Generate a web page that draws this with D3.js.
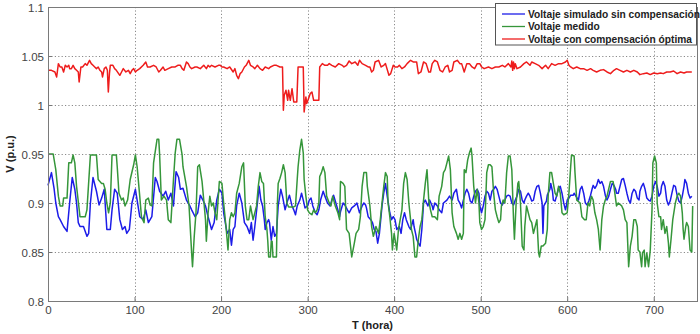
<!DOCTYPE html>
<html><head><meta charset="utf-8">
<script src="https://cdn.jsdelivr.net/npm/d3@7"></script>
<style>body{margin:0;background:#fff}svg{display:block}</style>
</head><body><svg id="c" width="700" height="334"></svg>
<script>
const xTicks = [0,100,200,300,400,500,600,700];
const yTicks = [0.8,0.85,0.9,0.95,1,1.05,1.1];
const yTickLabels = ["0.8","0.85","0.9","0.95","1","1.05","1.1"];
const xLabel = "T (hora)";
const yLabel = "V (p.u.)";
const seriesNames = ["Voltaje simulado sin compensación","Voltaje medido","Voltaje con compensación óptima"];

// [hora, V (p.u.)]
const simulado = [[0,.918],[4,.931],[7,.915],[9,.900],[12,.886],[14,.883],[18,.876],[22,.871],[25,.900],[28,.926],[31,.914],[33,.900],[35,.880],[37,.876],[41,.876],[45,.866],[47,.869],[49,.900],[52,.926],[56,.912],[59,.898],[62,.905],[65,.914],[68,.873],[72,.873],[74,.893],[77,.914],[80,.910],[83,.883],[86,.873],[89,.876],[91,.869],[94,.873],[97,.900],[101,.914],[103,.903],[106,.886],[110,.883],[113,.893],[116,.880],[120,.886],[124,.926],[126,.922],[129,.912],[133,.907],[136,.912],[139,.903],[142,.910],[145,.897],[148,.932],[151,.926],[153,.914],[156,.915],[160,.903],[164,.897],[166,.893],[170,.886],[173,.890],[176,.908],[179,.903],[182,.897],[185,.886],[189,.873],[192,.880],[195,.903],[198,.914],[201,.910],[203,.890],[207,.869],[210,.873],[212,.857],[214,.873],[216,.876],[218,.897],[221,.910],[224,.900],[227,.880],[230,.876],[233,.869],[235,.880],[237,.862],[239,.876],[242,.900],[244,.917],[246,.903],[248,.897],[250,.883],[251,.873],[253,.880],[255,.883],[256,.880],[258,.862],[260,.876],[262,.866],[264,.869],[266,.897],[269,.914],[271,.907],[274,.893],[276,.900],[279,.908],[282,.897],[284,.893],[286,.888],[288,.897],[291,.903],[293,.910],[295,.903],[297,.895],[300,.897],[302,.903],[304,.905],[306,.897],[309,.890],[311,.888],[313,.893],[315,.903],[318,.912],[320,.907],[323,.900],[326,.897],[328,.903],[330,.908],[332,.902],[335,.893],[337,.886],[338,.891],[341,.900],[343,.898],[346,.893],[348,.890],[351,.895],[354,.897],[357,.900],[360,.890],[363,.897],[365,.900],[367,.898],[368,.895],[370,.886],[373,.883],[375,.880],[377,.873],[379,.871],[381,.859],[383,.869],[386,.897],[388,.910],[390,.920],[392,.907],[395,.890],[397,.883],[399,.886],[401,.883],[403,.873],[406,.876],[408,.869],[410,.883],[412,.890],[414,.883],[417,.876],[419,.873],[422,.883],[423,.876],[425,.868],[426,.863],[428,.859],[430,.856],[432,.873],[434,.900],[436,.903],[439,.897],[441,.903],[444,.897],[445,.893],[447,.900],[450,.897],[452,.893],[455,.890],[457,.900],[461,.903],[464,.907],[467,.903],[469,.910],[472,.914],[474,.903],[476,.900],[478,.895],[480,.903],[482,.910],[484,.914],[486,.910],[488,.902],[490,.900],[492,.907],[494,.912],[496,.914],[498,.910],[499,.897],[501,.890],[503,.897],[505,.907],[507,.912],[509,.910],[511,.903],[513,.912],[515,.914],[517,.917],[519,.914],[521,.907],[523,.900],[525,.898],[526,.900],[528,.903],[530,.907],[532,.908],[534,.907],[536,.900],[538,.898],[540,.903],[542,.907],[544,.914],[546,.912],[548,.903],[550,.900],[551,.903],[553,.907],[555,.910],[557,.907],[559,.902],[561,.903],[563,.912],[565,.917],[567,.918],[569,.910],[571,.900],[572,.869],[573,.897],[576,.902],[577,.908],[580,.914],[581,.920],[583,.912],[584,.903],[586,.902],[588,.908],[590,.915],[592,.917],[594,.910],[596,.900],[598,.893],[599,.897],[600,.903],[602,.905],[604,.908],[607,.908],[608,.910],[610,.907],[613,.903],[615,.914],[617,.917],[619,.910],[621,.900],[623,.898],[625,.902],[627,.908],[629,.915],[630,.918],[632,.915],[634,.918],[636,.924],[638,.920],[640,.922],[642,.917],[644,.908],[646,.903],[648,.907],[650,.914],[652,.920],[654,.918],[656,.914],[657,.910],[659,.910],[661,.917],[663,.924],[665,.925],[667,.918],[669,.910],[671,.903],[673,.900],[675,.910],[677,.914],[679,.912],[681,.905],[683,.903],[684,.912],[686,.917],[688,.920],[690,.914],[692,.905],[694,.903],[696,.902],[698,.907],[700,.917],[702,.922],[704,.917],[706,.907],[708,.910],[709,.917],[711,.922],[713,.917],[715,.903],[717,.898],[719,.902],[721,.910],[723,.918],[725,.917],[727,.908],[729,.902],[731,.900],[733,.907],[735,.917],[736,.924],[738,.920],[740,.910],[742,.905],[744,.907]];

const medido = [[0,.950],[6,.950],[9,.934],[12,.907],[14,.897],[17,.897],[18,.905],[22,.905],[24,.941],[27,.941],[29,.949],[31,.941],[33,.917],[37,.886],[43,.886],[45,.893],[49,.949],[56,.949],[58,.924],[62,.920],[64,.920],[66,.914],[68,.900],[70,.890],[72,.900],[74,.949],[79,.949],[80,.937],[82,.910],[85,.903],[87,.905],[89,.897],[92,.903],[95,.924],[99,.939],[101,.949],[103,.937],[106,.907],[108,.886],[111,.880],[113,.903],[116,.905],[118,.898],[120,.897],[122,.941],[126,.965],[128,.965],[129,.949],[131,.903],[134,.907],[137,.903],[139,.883],[142,.880],[145,.924],[147,.951],[149,.965],[152,.965],[155,.949],[156,.937],[160,.917],[163,.897],[166,.849],[167,.835],[169,.866],[171,.890],[173,.937],[175,.939],[178,.922],[180,.903],[182,.883],[183,.861],[185,.890],[187,.907],[189,.897],[191,.900],[193,.890],[195,.883],[198,.922],[201,.920],[203,.900],[206,.873],[208,.852],[210,.883],[212,.890],[214,.886],[216,.890],[218,.910],[221,.920],[224,.937],[226,.941],[228,.897],[230,.883],[232,.883],[234,.897],[237,.883],[241,.897],[243,.917],[245,.931],[247,.922],[249,.920],[251,.886],[253,.873],[254,.861],[255,.845],[257,.845],[258,.861],[259,.861],[260,.845],[264,.845],[265,.897],[266,.920],[268,.925],[270,.931],[272,.939],[274,.931],[276,.900],[278,.896],[284,.896],[286,.897],[288,.924],[289,.937],[291,.954],[293,.965],[295,.951],[296,.924],[298,.907],[300,.893],[302,.890],[305,.888],[307,.893],[309,.890],[311,.893],[313,.900],[314,.927],[316,.931],[318,.937],[320,.931],[322,.907],[325,.900],[327,.897],[329,.907],[332,.897],[335,.890],[337,.883],[338,.922],[341,.920],[343,.917],[345,.873],[348,.869],[351,.845],[354,.859],[356,.869],[359,.873],[361,.886],[363,.917],[365,.931],[368,.931],[369,.917],[372,.897],[374,.876],[376,.866],[379,.876],[382,.869],[384,.883],[386,.900],[388,.917],[390,.931],[392,.927],[393,.900],[395,.886],[397,.869],[398,.852],[400,.869],[403,.852],[405,.873],[407,.883],[409,.893],[411,.920],[413,.931],[415,.924],[417,.900],[419,.883],[420,.873],[422,.866],[424,.845],[426,.845],[428,.863],[430,.876],[432,.883],[434,.903],[436,.920],[438,.934],[440,.903],[442,.893],[444,.886],[447,.886],[450,.883],[452,.907],[455,.917],[457,.931],[459,.934],[461,.941],[463,.948],[465,.934],[467,.890],[469,.876],[472,.869],[474,.863],[476,.869],[478,.863],[480,.869],[481,.934],[483,.931],[485,.944],[487,.951],[489,.956],[490,.948],[492,.917],[494,.900],[496,.914],[498,.900],[499,.880],[501,.873],[503,.876],[505,.883],[507,.931],[509,.939],[511,.939],[513,.937],[515,.910],[517,.893],[519,.886],[521,.880],[523,.883],[524,.897],[526,.903],[528,.900],[530,.931],[532,.948],[534,.948],[536,.934],[538,.883],[539,.863],[541,.900],[543,.920],[544,.922],[546,.900],[548,.856],[550,.852],[551,.876],[553,.897],[555,.890],[557,.883],[559,.880],[561,.869],[563,.876],[565,.883],[567,.849],[568,.845],[570,.856],[572,.856],[575,.859],[577,.873],[578,.907],[580,.931],[582,.931],[584,.920],[586,.910],[588,.907],[590,.917],[592,.910],[594,.890],[596,.888],[600,.890],[602,.910],[604,.937],[605,.949],[608,.948],[609,.931],[611,.903],[615,.900],[617,.886],[620,.883],[622,.883],[624,.900],[626,.897],[628,.907],[630,.903],[632,.890],[634,.883],[636,.873],[638,.852],[640,.883],[642,.897],[644,.903],[646,.907],[650,.922],[653,.922],[654,.917],[657,.897],[659,.900],[663,.897],[665,.893],[667,.883],[669,.880],[671,.835],[673,.856],[675,.866],[677,.883],[679,.883],[681,.876],[682,.852],[684,.850],[686,.835],[687,.849],[689,.852],[690,.835],[692,.849],[694,.835],[696,.852],[698,.893],[699,.941],[701,.948],[703,.941],[704,.900],[706,.886],[708,.886],[709,.873],[711,.883],[713,.869],[715,.876],[717,.859],[718,.845],[720,.863],[722,.883],[725,.900],[727,.907],[729,.910],[731,.907],[733,.890],[734,.873],[735,.863],[737,.876],[738,.880],[740,.876],[742,.852],[744,.850],[745,.897]];

const optima = [[0,1.0354],[4,1.0354],[8,1.0337],[10,1.0286],[12,1.0422],[14,1.0388],[16,1.0388],[18,1.0337],[20,1.0405],[22,1.0388],[24,1.0405],[25,1.0371],[27,1.0371],[29,1.0405],[31,1.0371],[33,1.0354],[35,1.0337],[36,1.0235],[38,1.0388],[40,1.0388],[43,1.0422],[45,1.0405],[48,1.0456],[50,1.0422],[52,1.0405],[54,1.0388],[56,1.0371],[58,1.0388],[60,1.0354],[62,1.0337],[63,1.0286],[65,1.0371],[67,1.0388],[68.6,1.0354],[69.7,1.0133],[71,1.032],[72,1.0405],[75,1.0405],[77,1.0371],[79,1.0354],[83,1.0303],[85,1.0337],[87,1.0371],[90,1.0337],[93,1.0354],[95,1.032],[97,1.0354],[99,1.0371],[101,1.0337],[103,1.0354],[106,1.0371],[110,1.0405],[113,1.0439],[115,1.0388],[118,1.0388],[122,1.0405],[125,1.0388],[128,1.0337],[130,1.0354],[133,1.0388],[135,1.0354],[139,1.0371],[143,1.0388],[147,1.0388],[150,1.0405],[153,1.0405],[155,1.0371],[157,1.0354],[160,1.0439],[162,1.0422],[164,1.0388],[166,1.0371],[170,1.0388],[172,1.0388],[176,1.0371],[180,1.0405],[183,1.0371],[185,1.0405],[187,1.0388],[189,1.0405],[193,1.0388],[197,1.0405],[199,1.0405],[201,1.0388],[203,1.0388],[207,1.0371],[210,1.0388],[214,1.0337],[216,1.0371],[218,1.0303],[220,1.0269],[222,1.032],[224,1.0337],[227,1.0388],[229,1.0405],[232,1.0456],[234,1.0405],[237,1.0388],[239,1.0371],[242,1.0405],[245,1.0371],[248,1.0354],[251,1.0388],[255,1.0371],[257,1.0388],[261,1.0405],[264,1.0405],[268,1.0388],[271,1.0388],[272,0.9946],[273,1.0099],[275,1.015],[277,1.0048],[278,1.015],[280,1.0048],[282,1.0167],[284,1.0031],[287.5,1.0031],[289,1.0388],[295,1.0388],[296,0.9929],[298,1.0082],[299,1.0014],[301,1.0065],[303,1.0116],[305,1.0133],[307,1.0048],[313,1.0048],[314,1.0388],[317,1.0422],[320,1.0405],[323,1.0405],[325,1.0422],[328,1.0405],[332,1.0388],[336,1.0422],[340,1.0405],[342,1.0388],[345,1.0405],[348,1.0449],[351,1.0422],[355,1.0439],[358,1.0405],[360,1.0456],[363,1.0422],[367,1.0405],[370,1.0388],[372,1.0388],[374,1.0337],[376,1.0354],[378,1.0439],[382,1.0456],[385,1.0388],[388,1.0405],[390,1.0422],[394,1.0303],[396,1.032],[399,1.0405],[401,1.0388],[404,1.0388],[406,1.0405],[409,1.0371],[412,1.0388],[415,1.0422],[419,1.0456],[422,1.0439],[426,1.0439],[428,1.032],[431,1.0337],[434,1.0439],[437,1.0422],[440,1.0337],[442,1.0337],[444,1.0422],[447,1.0456],[450,1.0439],[453,1.0354],[456,1.0337],[459,1.0388],[462,1.0405],[464,1.0337],[467,1.0354],[469,1.0439],[473,1.0456],[476,1.0422],[478,1.0422],[481,1.0337],[484,1.0422],[487,1.0422],[490,1.0388],[493,1.0371],[496,1.0422],[499,1.0422],[501,1.0388],[504,1.0371],[509,1.0388],[513,1.0371],[517,1.0388],[521,1.0388],[525,1.0405],[528,1.0388],[532,1.0422],[535,1.0388],[536,1.0449],[537,1.0354],[538,1.0439],[539,1.0371],[540,1.0422],[542,1.0371],[546,1.0388],[550,1.0422],[553,1.0439],[557,1.0405],[559,1.0439],[563,1.0422],[567,1.0405],[571,1.0371],[575,1.0405],[578,1.0371],[582,1.0422],[586,1.0405],[590,1.0422],[594,1.0422],[598,1.0439],[600,1.0456],[602,1.0405],[604,1.0388],[607,1.0371],[611,1.0388],[615,1.0371],[619,1.0371],[623,1.0354],[627,1.0371],[630,1.0354],[634,1.0337],[638,1.0354],[642,1.0361],[646,1.0337],[650,1.032],[654,1.0354],[657,1.0371],[661,1.0354],[665,1.0337],[669,1.0354],[673,1.0337],[677,1.0354],[681,1.0337],[684,1.031],[688,1.032],[692,1.0327],[696,1.031],[700,1.0327],[704,1.032],[708,1.0327],[711,1.032],[715,1.0337],[719,1.0337],[723,1.0347],[727,1.032],[731,1.0337],[735,1.0327],[738,1.0337],[744,1.0337]];

const seriesColors = ["#1c1ce8","#35963a","#ee1c1c"];

const svg = d3.select("#c");
const L = 48, R = 697, T = 7, B = 301;
const x = d3.scaleLinear().domain([0, 750]).range([L, R]);
const y = d3.scaleLinear().domain([0.8, 1.1]).range([B, T]);
const font = "'Liberation Sans', Arial, sans-serif";

svg.append("rect").attr("width", 700).attr("height", 334).attr("fill", "#fff");

// grid
const grid = svg.append("g").attr("stroke", "#8a8a8a").attr("stroke-width", 1).attr("stroke-dasharray", "1.2,2.2");
grid.selectAll("line.v").data(xTicks.filter(d => d > 0)).enter().append("line")
  .attr("x1", d => Math.round(x(d)) + 0.5).attr("x2", d => Math.round(x(d)) + 0.5)
  .attr("y1", T).attr("y2", B);
grid.selectAll("line.h").data(yTicks.filter(d => d > 0.8)).enter().append("line")
  .attr("y1", d => Math.round(y(d)) + 0.5).attr("y2", d => Math.round(y(d)) + 0.5)
  .attr("x1", L).attr("x2", R);

// series
const line = d3.line().x(d => x(d[0])).y(d => y(d[1]));
[simulado, medido, optima].forEach((s, i) => {
  svg.append("path").datum(s).attr("d", line)
    .attr("fill", "none").attr("stroke", seriesColors[i])
    .attr("stroke-width", 1.5).attr("stroke-linejoin", "round");
});

// axes
const yAxis = d3.axisLeft(y).tickValues(yTicks).tickFormat((d, i) => yTickLabels[i])
  .tickSizeInner(-4).tickSizeOuter(0).tickPadding(4);
const xAxis = d3.axisBottom(x).tickValues(xTicks).tickFormat(d3.format("d"))
  .tickSizeInner(-4).tickSizeOuter(0).tickPadding(5);
const gy = svg.append("g").attr("transform", `translate(${L},0)`).call(yAxis);
const gx = svg.append("g").attr("transform", `translate(0,${B})`).call(xAxis);
[gx, gy].forEach(g => {
  g.select(".domain").remove();
  g.selectAll(".tick line").attr("stroke", "#777");
  g.selectAll(".tick text").attr("fill", "#444").style("font-family", font).style("font-size", "11.5px");
});
gy.selectAll(".tick text").attr("dy", "0.36em");

// box
svg.append("rect").attr("x", L + 0.5).attr("y", T + 0.5).attr("width", R - L).attr("height", B - T)
  .attr("fill", "none").attr("stroke", "#7a7a7a").attr("stroke-width", 1);

// labels
svg.append("text").attr("x", (L + R) / 2).attr("y", 329).attr("text-anchor", "middle")
  .style("font-family", font).style("font-size", "11px").style("font-weight", "bold").attr("fill", "#222")
  .text(xLabel);
svg.append("text").attr("transform", `translate(14,${(T + B) / 2}) rotate(-90)`).attr("text-anchor", "middle")
  .style("font-family", font).style("font-size", "11px").style("font-weight", "bold").attr("fill", "#222")
  .text(yLabel);

// legend
const lg = svg.append("g");
lg.append("rect").attr("x", 495.5).attr("y", 3.5).attr("width", 201).attr("height", 41.5)
  .attr("fill", "#fff").attr("stroke", "#555").attr("stroke-width", 1);
const ly = [14, 26.5, 39];
seriesNames.forEach((n, i) => {
  lg.append("line").attr("x1", 502).attr("x2", 525).attr("y1", ly[i]).attr("y2", ly[i])
    .attr("stroke", seriesColors[i]).attr("stroke-width", 1.3);
  lg.append("text").attr("x", 528).attr("y", ly[i]).attr("dy", "0.35em")
    .style("font-family", font).style("font-size", "10.2px").style("font-weight", "bold").attr("fill", "#222")
    .text(n);
});
</script>
</body></html>
